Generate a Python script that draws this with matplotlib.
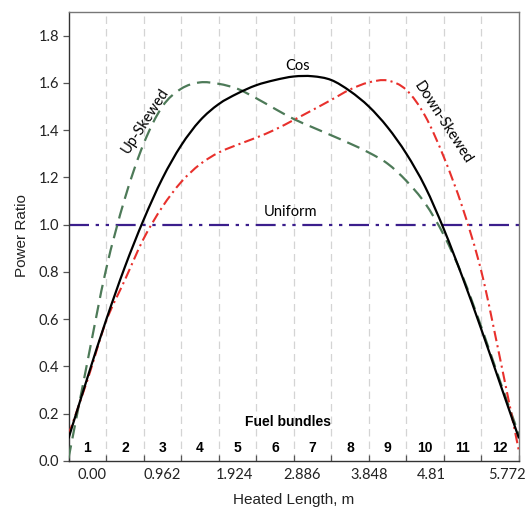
import numpy as np
import matplotlib
matplotlib.use("Agg")
import matplotlib.pyplot as plt
from matplotlib.path import Path
from matplotlib.patches import PathPatch

# Axial power shapes along the heated length (12 fuel bundles of 0.481 m)
bundle_len = 0.481
n_bundles = 12
x_m = np.arange(25) * bundle_len / 2.0

cos_shape = [0.095, 0.35, 0.595, 0.82, 1.02, 1.195, 1.335, 1.44, 1.51, 1.555, 1.59,
             1.612, 1.627, 1.628, 1.612, 1.565, 1.50, 1.412, 1.30, 1.16, 0.98,
             0.775, 0.555, 0.325, 0.095]
up_skewed = [0.01, 0.416, 0.81, 1.11, 1.342, 1.50, 1.575, 1.602, 1.596, 1.575, 1.535,
             1.49, 1.447, 1.412, 1.378, 1.343, 1.305, 1.258, 1.185, 1.09, 0.955,
             0.78, 0.565, 0.335, 0.11]
down_skewed = [0.11, 0.34, 0.59, 0.765, 0.94, 1.075, 1.18, 1.255, 1.305, 1.338, 1.368,
               1.402, 1.443, 1.485, 1.528, 1.572, 1.602, 1.61, 1.57, 1.46, 1.285,
               1.07, 0.80, 0.43, 0.04]
uniform_level = 1.0

bundle_labels = [str(i) for i in range(1, 13)]
length_labels = ["0.00", "0.962", "1.924", "2.886", "3.848", "4.81", "5.772"]
length_label_pos = [0.30, 1.20, 2.12, 2.99, 3.85, 4.65, 5.62]
y_ticks = [0.0, 0.2, 0.4, 0.6, 0.8, 1.0, 1.2, 1.4, 1.6, 1.8]

calibri_like = ["Lato", "DejaVu Sans"]
arial_like = ["Liberation Sans", "DejaVu Sans"]


def smooth_path(xs, ys):
    """Smoothed line through the points (Catmull-Rom segments as cubic Beziers)."""
    pts = np.column_stack([xs, ys]).astype(float)
    ext = np.vstack([pts[0], pts, pts[-1]])
    verts = [pts[0]]
    codes = [Path.MOVETO]
    for i in range(1, len(ext) - 2):
        p0, p1, p2, p3 = ext[i - 1], ext[i], ext[i + 1], ext[i + 2]
        verts += [p1 + (p2 - p0) / 6.0, p2 - (p3 - p1) / 6.0, p2]
        codes += [Path.CURVE4] * 3
    return Path(verts, codes)


fig = plt.figure(figsize=(5.27, 5.11), dpi=100)
ax = fig.add_axes([0.130, 0.0982, 0.8548, 0.8783])

x_end = n_bundles * bundle_len
ax.set_xlim(0, x_end)
ax.set_ylim(0, 1.9)

# bundle boundaries
for k in range(1, n_bundles):
    ax.axvline(k * bundle_len, color="#d4d4d4", lw=0.9, ls=(0, (6, 4)), zorder=0)

ax.axhline(uniform_level, color="#3b1e8c", lw=1.6,
           dashes=(9, 3, 1.5, 3, 1.5, 3), zorder=2)

series = [
    (up_skewed, dict(edgecolor="#4d7a58", lw=1.6, ls=(0, (6, 3.2)), zorder=3)),
    (down_skewed, dict(edgecolor="#e8302c", lw=1.5, ls=(0, (5, 2, 1, 2)), zorder=3)),
    (cos_shape, dict(edgecolor="black", lw=1.6, ls="-", zorder=4)),
]
for ys, style in series:
    ax.add_patch(PathPatch(smooth_path(x_m, ys), facecolor="none",
                           capstyle="butt", **style))

# curve annotations
ax.text(2.93, 1.672, "Cos", ha="center", va="center", fontsize=10.5, family=calibri_like)
ax.text(2.84, 1.055, "Uniform", ha="center", va="center", fontsize=10.5, family=calibri_like)
ax.text(0.98, 1.44, "Up-Skewed", ha="center", va="center", rotation=57,
        rotation_mode="anchor", fontsize=10.5, family=calibri_like)
ax.text(4.80, 1.432, "Down-Skewed", ha="center", va="center", rotation=-57,
        rotation_mode="anchor", fontsize=10.5, family=calibri_like)

# fuel bundle numbering
ax.text(2.81, 0.165, "Fuel bundles", ha="center", va="center", fontsize=10,
        fontweight="bold", family=arial_like)
for i, lab in enumerate(bundle_labels):
    ax.text((i + 0.5) * bundle_len, 0.053, lab, ha="center", va="center",
            fontsize=10, fontweight="bold", family=arial_like)

# ticks
ax.set_xticks([k * bundle_len for k in range(n_bundles + 1)])
ax.set_xticklabels([])
ax.tick_params(axis="x", direction="in", length=4, width=0.9, color="#555555")
ax.set_yticks(y_ticks)
ax.set_yticklabels([f"{v:.1f}" for v in y_ticks], fontsize=10.5, family=calibri_like,
                   color="#222222")
ax.tick_params(axis="y", direction="out", length=4, width=0.9, color="#555555", pad=3)

for pos, lab in zip(length_label_pos, length_labels):
    ax.text(pos, -0.032, lab, transform=ax.get_xaxis_transform(), ha="center",
            va="center", fontsize=10.5, family=calibri_like, color="#222222")

for side in ["top", "right"]:
    ax.spines[side].set_color("#777777")
    ax.spines[side].set_linewidth(1.0)
for side in ["left", "bottom"]:
    ax.spines[side].set_color("#333333")
    ax.spines[side].set_linewidth(1.0)

fig.text(294 / 527, 1 - 500 / 511, "Heated Length, m", ha="center", va="center",
         fontsize=11, family=arial_like, color="#222222")
fig.text(22 / 527, 1 - 236 / 511, "Power Ratio", ha="center", va="center",
         rotation=90, fontsize=11, family=arial_like, color="#222222")

fig.savefig("out.png", dpi=100)
